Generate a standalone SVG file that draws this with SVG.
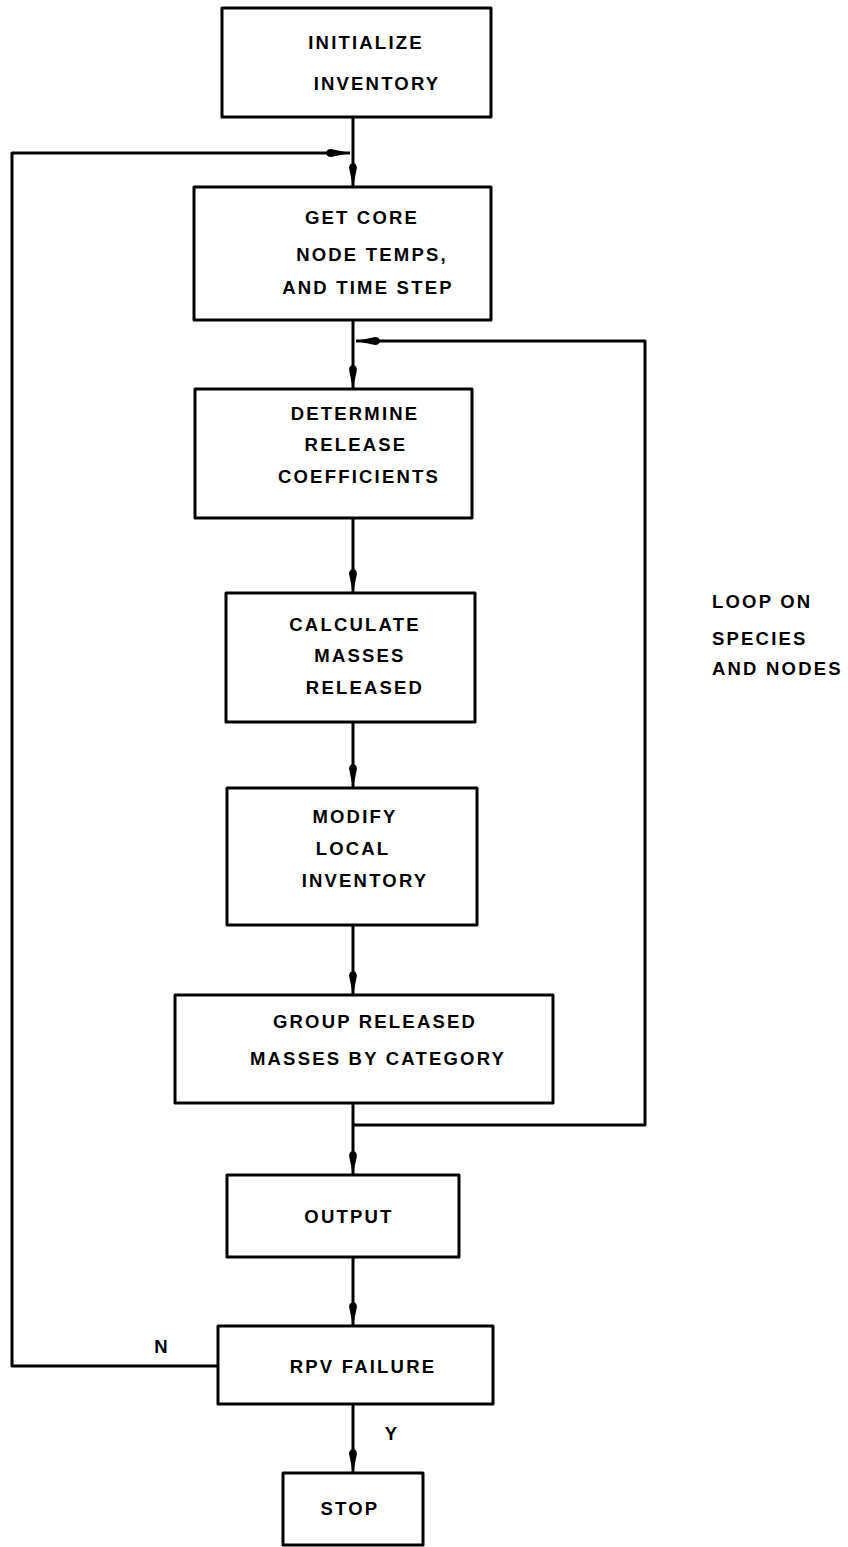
<svg xmlns="http://www.w3.org/2000/svg" width="848" height="1547" viewBox="0 0 848 1547">
  <style>
    .box { fill: #fff; stroke: #000; stroke-width: 3; stroke-linejoin: round; }
    .lbl { font-family: "Liberation Sans", Arial, sans-serif; font-weight: bold; font-size: 18.5px; letter-spacing: 2.2px; fill: #000; text-anchor: middle; }
    .side { text-anchor: start; }
    .wire { fill: none; stroke: #000; stroke-width: 3; stroke-linejoin: round; stroke-linecap: butt; }
  </style>
  <defs>
    <marker id="head" viewBox="0 0 24 9" refX="24" refY="4.5" markerWidth="24" markerHeight="9" markerUnits="userSpaceOnUse" orient="auto">
      <path d="M0,4.5 Q0.5,0.6 5,0.6 L24,4.5 L5,8.4 Q0.5,8.4 0,4.5 Z" fill="#000"/>
    </marker>
  </defs>

  <rect width="848" height="1547" fill="#fff"/>

  <!-- connectors -->
  <g id="connectors">
    <line class="wire" x1="353" y1="117" x2="353" y2="187" marker-end="url(#head)"/>
    <line class="wire" x1="353" y1="320" x2="353" y2="389" marker-end="url(#head)"/>
    <line class="wire" x1="353" y1="518" x2="353" y2="593" marker-end="url(#head)"/>
    <line class="wire" x1="353" y1="722" x2="353" y2="788" marker-end="url(#head)"/>
    <line class="wire" x1="353" y1="925" x2="353" y2="995" marker-end="url(#head)"/>
    <line class="wire" x1="353" y1="1103" x2="353" y2="1175" marker-end="url(#head)"/>
    <line class="wire" x1="353" y1="1257" x2="353" y2="1326" marker-end="url(#head)"/>
    <line class="wire" x1="353" y1="1404" x2="353" y2="1473" marker-end="url(#head)"/>
    <!-- inner loop: species and nodes -->
    <path class="wire" d="M353,1125 H645 V341 H356" marker-end="url(#head)"/>
    <!-- outer loop: next time step when RPV has not failed -->
    <path class="wire" d="M218,1366 H12 V153 H350" marker-end="url(#head)"/>
  </g>

  <g id="n-init">
    <rect class="box" x="222" y="8" width="269" height="109"/>
    <text class="lbl" x="366" y="49">INITIALIZE</text>
    <text class="lbl" x="377" y="90">INVENTORY</text>
  </g>

  <g id="n-core">
    <rect class="box" x="194" y="187" width="297" height="133"/>
    <text class="lbl" x="362" y="224">GET CORE</text>
    <text class="lbl" x="372" y="261">NODE TEMPS,</text>
    <text class="lbl" x="368" y="294">AND TIME STEP</text>
  </g>

  <g id="n-coef">
    <rect class="box" x="195" y="389" width="277" height="129"/>
    <text class="lbl" x="355" y="420">DETERMINE</text>
    <text class="lbl" x="356" y="451">RELEASE</text>
    <text class="lbl" x="359" y="483">COEFFICIENTS</text>
  </g>

  <g id="n-calc">
    <rect class="box" x="226" y="593" width="249" height="129"/>
    <text class="lbl" x="355" y="631">CALCULATE</text>
    <text class="lbl" x="360" y="662">MASSES</text>
    <text class="lbl" x="365" y="694">RELEASED</text>
  </g>

  <g id="n-modify">
    <rect class="box" x="227" y="788" width="250" height="137"/>
    <text class="lbl" x="355" y="823">MODIFY</text>
    <text class="lbl" x="353" y="855">LOCAL</text>
    <text class="lbl" x="365" y="887">INVENTORY</text>
  </g>

  <g id="n-group">
    <rect class="box" x="175" y="995" width="378" height="108"/>
    <text class="lbl" x="375" y="1028">GROUP RELEASED</text>
    <text class="lbl" x="378" y="1065">MASSES BY CATEGORY</text>
  </g>

  <g id="n-output">
    <rect class="box" x="227" y="1175" width="232" height="82"/>
    <text class="lbl" x="349" y="1223">OUTPUT</text>
  </g>

  <g id="n-rpv">
    <rect class="box" x="218" y="1326" width="275" height="78"/>
    <text class="lbl" x="363" y="1373">RPV FAILURE</text>
    <text class="lbl" x="162" y="1353">N</text>
    <text class="lbl" x="392" y="1440">Y</text>
  </g>

  <g id="n-stop">
    <rect class="box" x="283" y="1473" width="140" height="72"/>
    <text class="lbl" x="350" y="1515">STOP</text>
  </g>

  <g id="loop-label">
    <text class="lbl side" x="712" y="608">LOOP ON</text>
    <text class="lbl side" x="712" y="645">SPECIES</text>
    <text class="lbl side" x="712" y="675">AND NODES</text>
  </g>
</svg>
